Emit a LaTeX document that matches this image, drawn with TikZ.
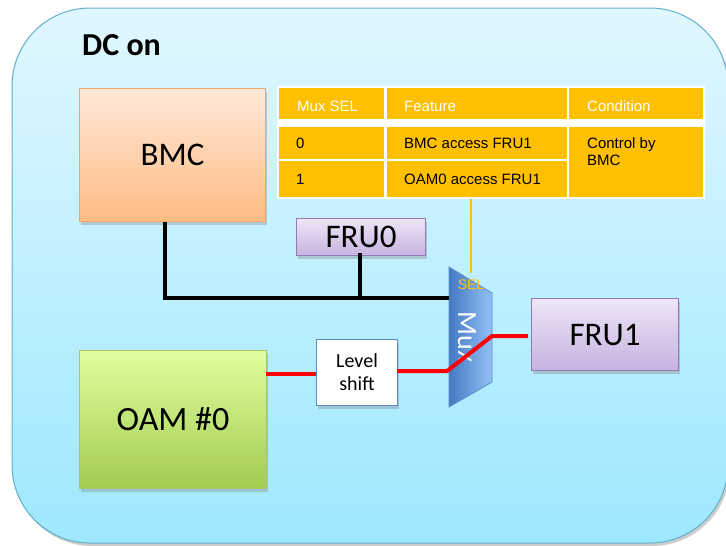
\documentclass[tikz,border=0pt]{standalone}
\usepackage{fontspec}
\setmainfont{Carlito}
\newfontfamily\tablefont{Liberation Sans}
\usetikzlibrary{shadows}
\definecolor{panelline}{RGB}{95,175,205}
\definecolor{paneltop}{RGB}{224,247,255}
\definecolor{panelbot}{RGB}{158,232,255}
\definecolor{tableorange}{RGB}{255,192,0}
\definecolor{bmcline}{RGB}{247,165,100}
\definecolor{bmctop}{RGB}{255,232,216}
\definecolor{bmcbot}{RGB}{255,188,132}
\definecolor{oamline}{RGB}{165,200,105}
\definecolor{oamtop}{RGB}{222,255,158}
\definecolor{oambot}{RGB}{163,203,80}
\definecolor{fruline}{RGB}{150,120,180}
\definecolor{frutop}{RGB}{238,230,247}
\definecolor{frubot}{RGB}{198,178,224}
\definecolor{muxline}{RGB}{90,140,200}
\definecolor{muxleft}{RGB}{68,122,195}
\definecolor{muxright}{RGB}{148,192,246}
\tikzset{
  block/.style={draw,line width=1pt,minimum width=#1,inner sep=0pt,anchor=north west,
    drop shadow={shadow xshift=1pt,shadow yshift=-3pt,opacity=.35}},
  bmcbox/.style={block=186pt,minimum height=133pt,draw=bmcline,top color=bmctop,bottom color=bmcbot},
  oambox/.style={block=187pt,minimum height=138pt,draw=oamline,top color=oamtop,bottom color=oambot},
  frubox/.style={block=#1,draw=fruline,top color=frutop,bottom color=frubot},
  cell/.style={fill=tableorange,anchor=north west,inner sep=0pt,minimum width=#1},
  celltext/.style={font=\tablefont\fontsize{15}{17}\selectfont,anchor=west,inner sep=0pt},
  blackbus/.style={line width=4pt,black},
  redbus/.style={line width=4pt,red}
}
\begin{document}
\begin{tikzpicture}[x=1pt,y=-1pt]
    \useasboundingbox (0,0) rectangle (726,546);
    % panel
    \draw[panelline,line width=1pt,top color=paneltop,bottom color=panelbot,rounded corners=78pt,
        drop shadow={shadow xshift=2pt,shadow yshift=-3pt,opacity=.4}]
        (12,8) rectangle (728,543);
    \node[anchor=west,inner sep=0pt,font=\fontsize{32}{36}\selectfont\bfseries] (title) at (82,45) {DC on};
    % blocks
    \node[bmcbox,font=\fontsize{33}{38}\selectfont] (BMC) at (79,88) {BMC};
    \node[oambox,font=\fontsize{34}{38}\selectfont] (OAM) at (79,350) {OAM \#0};
    \node[frubox=129pt,minimum height=37pt,font=\fontsize{33}{36}\selectfont] (FRU0) at (296,218) {FRU0};
    \node[frubox=147pt,minimum height=72pt,font=\fontsize{33}{36}\selectfont] (FRU1) at (531,298) {FRU1};
    \node[block=81pt,minimum height=66pt,fill=white,draw=muxline,align=center,font=\fontsize{20}{23}\selectfont] (shift) at (316,339) {Level\\shift};
    % table
    \fill[white] (277,86) rectangle (705,199);
    \node[cell=105pt,minimum height=31pt] (c11) at (279,88) {};
    \node[cell=180pt,minimum height=31pt] (c12) at (387,88) {};
    \node[cell=134pt,minimum height=31pt] (c13) at (569,88) {};
    \node[cell=105pt,minimum height=32pt] (c21) at (279,127) {};
    \node[cell=180pt,minimum height=32pt] (c22) at (387,127) {};
    \node[cell=134pt,minimum height=70pt] (c23) at (569,127) {};
    \node[cell=105pt,minimum height=36pt] (c31) at (279,161) {};
    \node[cell=180pt,minimum height=36pt] (c32) at (387,161) {};
    \node[celltext,white] at (297,106) {Mux SEL};
    \node[celltext,white] at (404,106) {Feature};
    \node[celltext,white] at (587,106) {Condition};
    \node[celltext] at (296,143) {0};
    \node[celltext] at (404,143) {BMC access FRU1};
    \node[celltext,align=left] at (587,151.5) {Control by\\BMC};
    \node[celltext] at (296,179) {1};
    \node[celltext] at (404,179) {OAM0 access FRU1};
    % mux
    \coordinate (muxtl) at (449,267);
    \coordinate (muxtr) at (492,293);
    \coordinate (muxbr) at (492,382);
    \coordinate (muxbl) at (449,407);
    \draw[muxline,line width=.8pt,left color=muxleft,right color=muxright]
        (muxtl)--(muxtr)--(muxbr)--(muxbl)--cycle;
    \node[rotate=-90,white,font=\fontsize{28}{32}\selectfont] (Mux) at (467,337) {Mux};
    \node[tableorange,font=\tablefont\fontsize{14}{16}\selectfont] (SEL) at (471,285) {SEL};
    % wires
    \coordinate (busL) at (165,298);
    \coordinate (busT) at (360,298);
    \coordinate (busR) at (449,298);
    \coordinate (redA) at (266,374);
    \coordinate (redB) at (316,374);
    \coordinate (redC) at (397,371);
    \coordinate (redD) at (447,371);
    \coordinate (redE) at (492,336);
    \coordinate (redF) at (528,336);
    \draw[blackbus] (BMC.south -| busL)--(busL)--(busR);
    \draw[blackbus] ([yshift=3pt]FRU0.south -| busT)--(busT);
    \draw[redbus] (redA)--(redB);
    \draw[redbus] (redC)--(redD)--(redE)--(redF);
    \draw[tableorange,line width=2.5pt] (471,199)--(471,273);
\end{tikzpicture}
\end{document}
